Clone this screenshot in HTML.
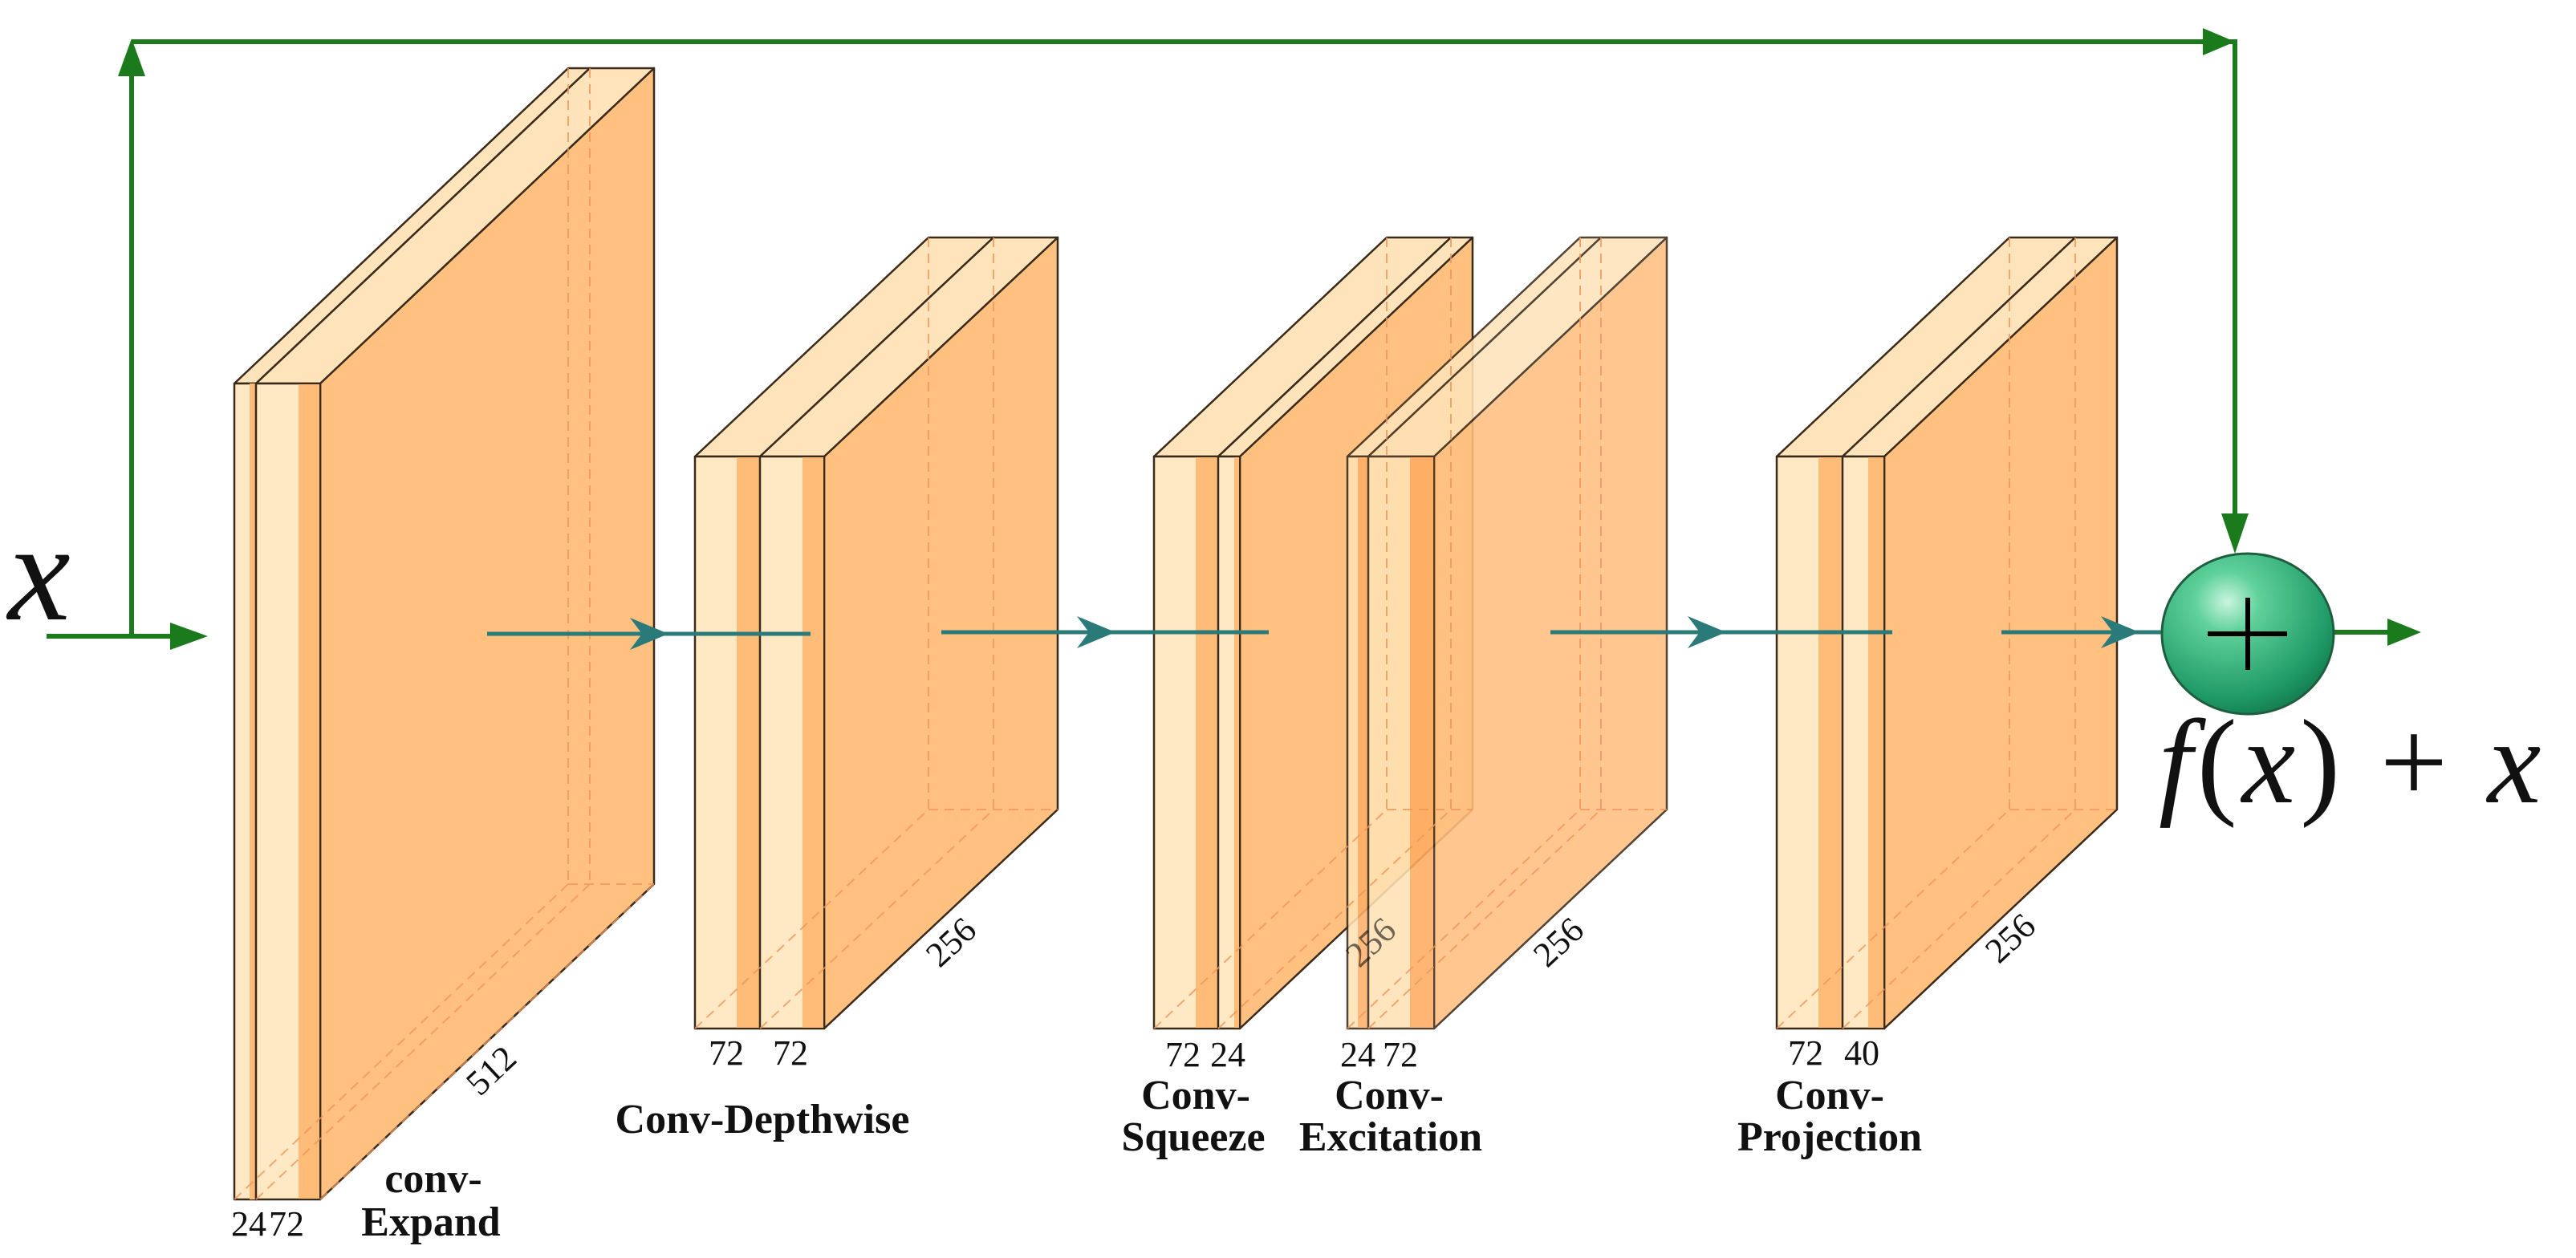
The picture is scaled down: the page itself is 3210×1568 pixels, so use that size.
<!DOCTYPE html>
<html><head><meta charset="utf-8"><style>
html,body{margin:0;padding:0;background:#fff;}
svg{display:block;}
text{font-family:"Liberation Serif",serif;fill:#111;}
.n{font-size:44px;}
.b{font-size:52px;font-weight:bold;}
</style></head><body>
<svg width="3210" height="1568" viewBox="0 0 3210 1568" xmlns="http://www.w3.org/2000/svg">
<defs>
<radialGradient id="g" cx="0.38" cy="0.3" r="0.75">
<stop offset="0" stop-color="#c9f5de"/><stop offset="0.25" stop-color="#5fd19b"/><stop offset="0.8" stop-color="#1f9a66"/><stop offset="1" stop-color="#137a4e"/>
</radialGradient>
</defs>
<g stroke="#3a2a1a" stroke-width="2.5" stroke-linejoin="round">
<polygon points="319,478 735,85 735,1102 319,1495" fill="#ffbe7d"/>
<polygon points="292,478 708,85 735,85 319,478" fill="#ffe3ba"/>
<rect x="292" y="478" width="27" height="1017" fill="#ffe9c4"/><rect x="311" y="478" width="8" height="1017" fill="#ffbb78" stroke="none"/>
<polygon points="399,478 815,85 815,1102 399,1495" fill="#ffc080"/>
<polygon points="319,478 735,85 815,85 399,478" fill="#ffe3ba"/>
<rect x="319" y="478" width="80" height="1017" fill="#ffe9c4"/><rect x="372" y="479" width="26" height="1015" fill="#ffbb78" stroke="none"/>
<polygon points="947,569 1238,296 1238,1009 947,1282" fill="#ffbe7d"/>
<polygon points="866,569 1157,296 1238,296 947,569" fill="#ffe3ba"/>
<rect x="866" y="569" width="81" height="713" fill="#ffe9c4"/><rect x="918" y="570" width="28" height="711" fill="#ffbb78" stroke="none"/>
<polygon points="1027,569 1318,296 1318,1009 1027,1282" fill="#ffc080"/>
<polygon points="947,569 1238,296 1318,296 1027,569" fill="#ffe3ba"/>
<rect x="947" y="569" width="80" height="713" fill="#ffe9c4"/><rect x="1000" y="570" width="26" height="711" fill="#ffbb78" stroke="none"/>
<polygon points="1518,569 1808,296 1808,1009 1518,1282" fill="#ffbe7d"/>
<polygon points="1438,569 1728,296 1808,296 1518,569" fill="#ffe3ba"/>
<rect x="1438" y="569" width="80" height="713" fill="#ffe9c4"/><rect x="1490" y="570" width="27" height="711" fill="#ffbb78" stroke="none"/>
<polygon points="1545,569 1835,296 1835,1009 1545,1282" fill="#ffc080"/>
<polygon points="1518,569 1808,296 1835,296 1545,569" fill="#ffe3ba"/>
<rect x="1518" y="569" width="27" height="713" fill="#ffe9c4"/><rect x="1538" y="570" width="6" height="711" fill="#ffbb78" stroke="none"/>
<g opacity="0.88">
<polygon points="1705,569 1995,296 1995,1009 1705,1282" fill="#ffbe7d"/>
<polygon points="1679,569 1969,296 1995,296 1705,569" fill="#ffe3ba"/>
<rect x="1679" y="569" width="26" height="713" fill="#ffe2b4"/><rect x="1692" y="570" width="12" height="711" fill="#ffb06a" stroke="none"/>
<polygon points="1787,569 2077,296 2077,1009 1787,1282" fill="#ffc080"/>
<polygon points="1705,569 1995,296 2077,296 1787,569" fill="#ffe3ba"/>
<rect x="1705" y="569" width="82" height="713" fill="#ffe2b4"/><rect x="1757" y="570" width="29" height="711" fill="#ffac62" stroke="none"/>
</g>
<polygon points="2296,569 2586,296 2586,1009 2296,1282" fill="#ffbe7d"/>
<polygon points="2214,569 2504,296 2586,296 2296,569" fill="#ffe3ba"/>
<rect x="2214" y="569" width="82" height="713" fill="#ffe9c4"/><rect x="2266" y="570" width="29" height="711" fill="#ffbb78" stroke="none"/>
<polygon points="2348,569 2638,296 2638,1009 2348,1282" fill="#ffc080"/>
<polygon points="2296,569 2586,296 2638,296 2348,569" fill="#ffe3ba"/>
<rect x="2296" y="569" width="52" height="713" fill="#ffe9c4"/><rect x="2328" y="570" width="19" height="711" fill="#ffbb78" stroke="none"/>
</g>
<g stroke="#f0955a" stroke-width="2" stroke-dasharray="12,8" fill="none" opacity="0.8">
<path d="M708,85V1102M735,85V1102M708,1102H815M292,1495L708,1102M319,1495L735,1102M399,1495L815,1102"/>
<path d="M1157,296V1009M1238,296V1009M1157,1009H1318M866,1282L1157,1009M947,1282L1238,1009"/>
<path d="M1728,296V1009M1808,296V1009M1728,1009H1835M1438,1282L1728,1009M1518,1282L1808,1009"/>
<path d="M1969,296V1009M1995,296V1009M1969,1009H2077M1679,1282L1969,1009M1705,1282L1995,1009"/>
<path d="M2504,296V1009M2586,296V1009M2504,1009H2638M2214,1282L2504,1009M2296,1282L2586,1009"/>
</g>
<g stroke="#2b7a7a" stroke-width="5" fill="#2b7a7a">
<line x1="607" y1="790" x2="1010" y2="790"/>
<line x1="1173" y1="788" x2="1581" y2="788"/>
<line x1="1932" y1="788" x2="2358" y2="788"/>
<line x1="2494" y1="788" x2="2693" y2="788"/>
<path stroke="none" d="M833,790 L785,770 L800,790 L785,810 Z"/>
<path stroke="none" d="M1390,788 L1342,768 L1357,788 L1342,808 Z"/>
<path stroke="none" d="M2151,788 L2103,768 L2118,788 L2103,808 Z"/>
<path stroke="none" d="M2666,788 L2618,768 L2633,788 L2618,808 Z"/>
</g>
<g stroke="#1b7a1b" stroke-width="6" fill="none">
<path d="M58,793H215"/>
<path d="M164,793V90"/>
<path d="M164,52H2785V645"/>
<path d="M2908,788H2980"/>
</g>
<g fill="#1b7a1b">
<path d="M259,793 L212,776 L212,810 Z"/>
<path d="M164,48 L147,95 L181,95 Z"/>
<path d="M2785,52 L2745,35 L2745,69 Z"/>
<path d="M2785,690 L2768,640 L2802,640 Z"/>
<path d="M3017,788 L2975,771 L2975,805 Z"/>
</g>
<ellipse cx="2801" cy="790" rx="107" ry="100" fill="url(#g)" stroke="#1e5e3e" stroke-width="3"/>
<path d="M2751,790H2850M2801,745V835" stroke="#000" stroke-width="6"/>
<text x="10" y="772" style="font-size:175px;font-style:italic">x</text>
<text x="2690" y="1000" style="font-size:150px;letter-spacing:6px"><tspan font-style="italic">f</tspan>(<tspan font-style="italic">x</tspan>) + <tspan font-style="italic">x</tspan></text>
<text class="n" x="288" y="1540">24</text><text class="n" x="335" y="1540">72</text>
<text class="b" x="540" y="1486" text-anchor="middle">conv-</text>
<text class="b" x="537" y="1540" text-anchor="middle">Expand</text>
<text class="n" transform="translate(622,1345) rotate(-43)" text-anchor="middle">512</text>
<text class="n" x="883" y="1327">72</text><text class="n" x="963" y="1327">72</text>
<text class="b" x="950" y="1412" text-anchor="middle">Conv-Depthwise</text>
<text class="n" transform="translate(1195,1185) rotate(-43)" text-anchor="middle">256</text>
<text class="n" x="1452" y="1329">72</text><text class="n" x="1508" y="1329">24</text>
<text class="b" x="1490" y="1382" text-anchor="middle">Conv-</text>
<text class="b" x="1487" y="1434" text-anchor="middle">Squeeze</text>
<text class="n" x="1670" y="1329">24</text><text class="n" x="1723" y="1329">72</text>
<text class="b" x="1731" y="1382" text-anchor="middle">Conv-</text>
<text class="b" x="1733" y="1434" text-anchor="middle">Excitation</text>
<text class="n" transform="translate(1718,1185) rotate(-43)" text-anchor="middle" opacity="0.6">256</text>
<text class="n" transform="translate(1952,1185) rotate(-43)" text-anchor="middle">256</text>
<text class="n" x="2228" y="1327">72</text><text class="n" x="2298" y="1327">40</text>
<text class="b" x="2280" y="1382" text-anchor="middle">Conv-</text>
<text class="b" x="2280" y="1434" text-anchor="middle">Projection</text>
<text class="n" transform="translate(2515,1180) rotate(-43)" text-anchor="middle">256</text>
</svg>
</body></html>
